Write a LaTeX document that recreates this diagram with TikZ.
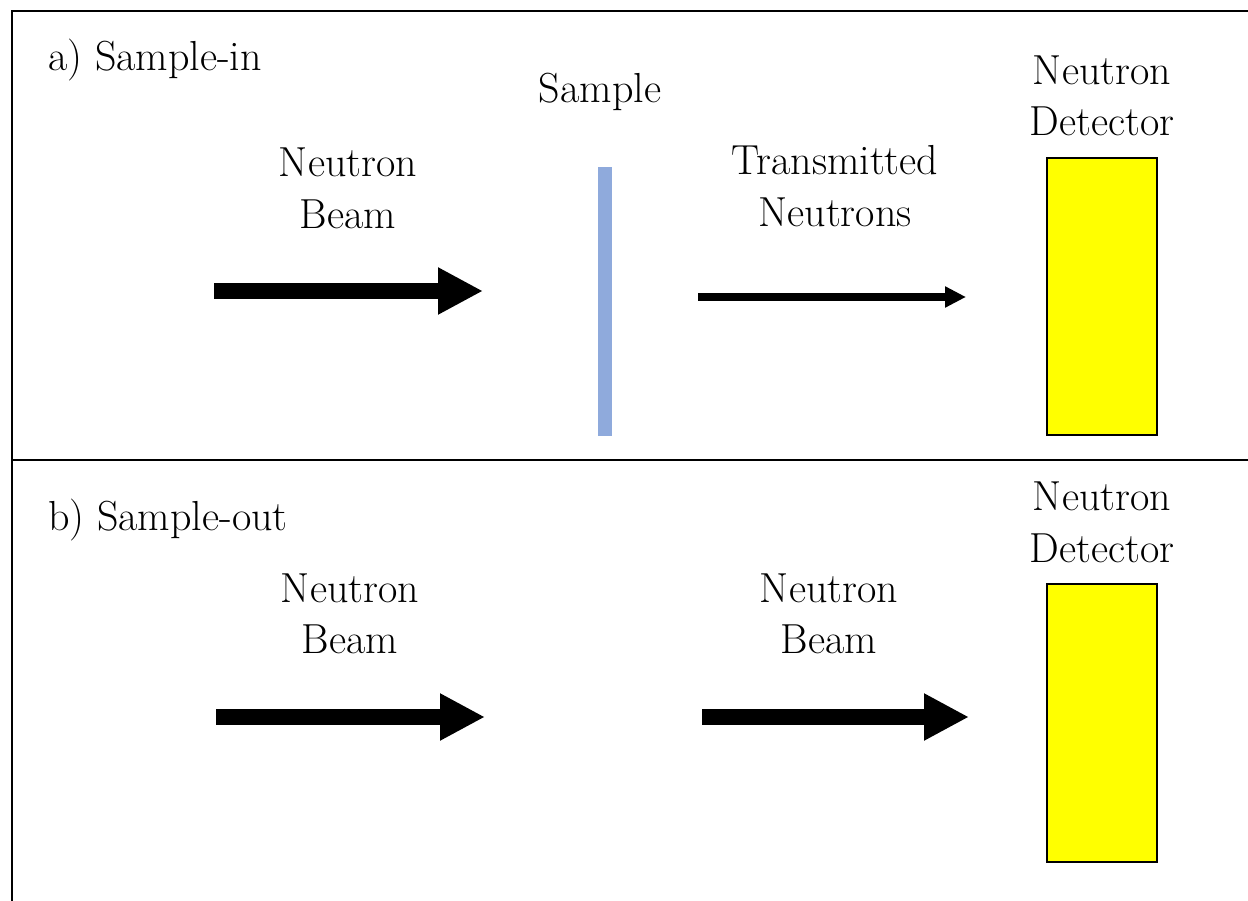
\documentclass[tikz,border=0pt]{standalone}
\usetikzlibrary{arrows.meta}
\definecolor{samplebl}{RGB}{143,170,220}
\definecolor{detyel}{RGB}{255,255,0}
\tikzset{
  lbl/.style={anchor=base, inner sep=0pt, font=\fontsize{42}{52}\selectfont},
  ttl/.style={anchor=base west, inner sep=0pt, font=\fontsize{42}{52}\selectfont},
  frameline/.style={line width=2.5pt, black},
  bigarrow/.style={line width=16pt, -{Triangle[length=45pt,width=44pt]}},
  thinarrow/.style={line width=8pt, -{Triangle[length=21pt,width=20pt]}},
  detector/.style={draw=black, line width=2pt, fill=detyel},
  samplebar/.style={fill=samplebl, draw=none}
}
\begin{document}
\begin{tikzpicture}[x=1pt,y=-1pt]
\useasboundingbox (0,0) rectangle (1248,901);
% frame
\coordinate (ftr) at (1248,11);
\coordinate (ftl) at (12,11);
\coordinate (fbl) at (12,901);
\coordinate (fml) at (12,460);
\coordinate (fmr) at (1248,460);
\draw[frameline] (ftr) -- (ftl) -- (fbl);
\draw[frameline] (fml) -- (fmr);

% ---- a) sample-in
\node[ttl] (ta) at (48,71) {a) Sample-in};
\node[lbl] (nbA1) at (348,177) {Neutron};
\node[lbl] (nbA2) at (348,229) {Beam};
\coordinate (a1s) at (214,291);
\coordinate (a1e) at (483,291);
\draw[bigarrow] (a1s) -- (a1e);

\node[lbl] (smp) at (600,103) {Sample};
\path[samplebar] (598,167) rectangle (612,436);

\node[lbl] (tr1) at (835,175) {Transmitted};
\node[lbl] (tr2) at (835,227) {Neutrons};
\coordinate (a2s) at (698,297);
\coordinate (a2e) at (966,297);
\draw[thinarrow] (a2s) -- (a2e);

\node[lbl] (ndA1) at (1102,85) {Neutron};
\node[lbl] (ndA2) at (1102,136) {Detector};
\draw[detector] (1047,158) rectangle (1157,435);

% ---- b) sample-out
\node[ttl] (tb) at (48,530) {b) Sample-out};
\node[lbl] (nbB1) at (350,602) {Neutron};
\node[lbl] (nbB2) at (350,653) {Beam};
\coordinate (b1s) at (216,717);
\coordinate (b1e) at (485,717);
\draw[bigarrow] (b1s) -- (b1e);

\node[lbl] (nbC1) at (829,602) {Neutron};
\node[lbl] (nbC2) at (829,653) {Beam};
\coordinate (b2s) at (702,717);
\coordinate (b2e) at (969,717);
\draw[bigarrow] (b2s) -- (b2e);

\node[lbl] (ndB1) at (1102,510) {Neutron};
\node[lbl] (ndB2) at (1102,562) {Detector};
\draw[detector] (1047,584) rectangle (1157,862);
\end{tikzpicture}
\end{document}
